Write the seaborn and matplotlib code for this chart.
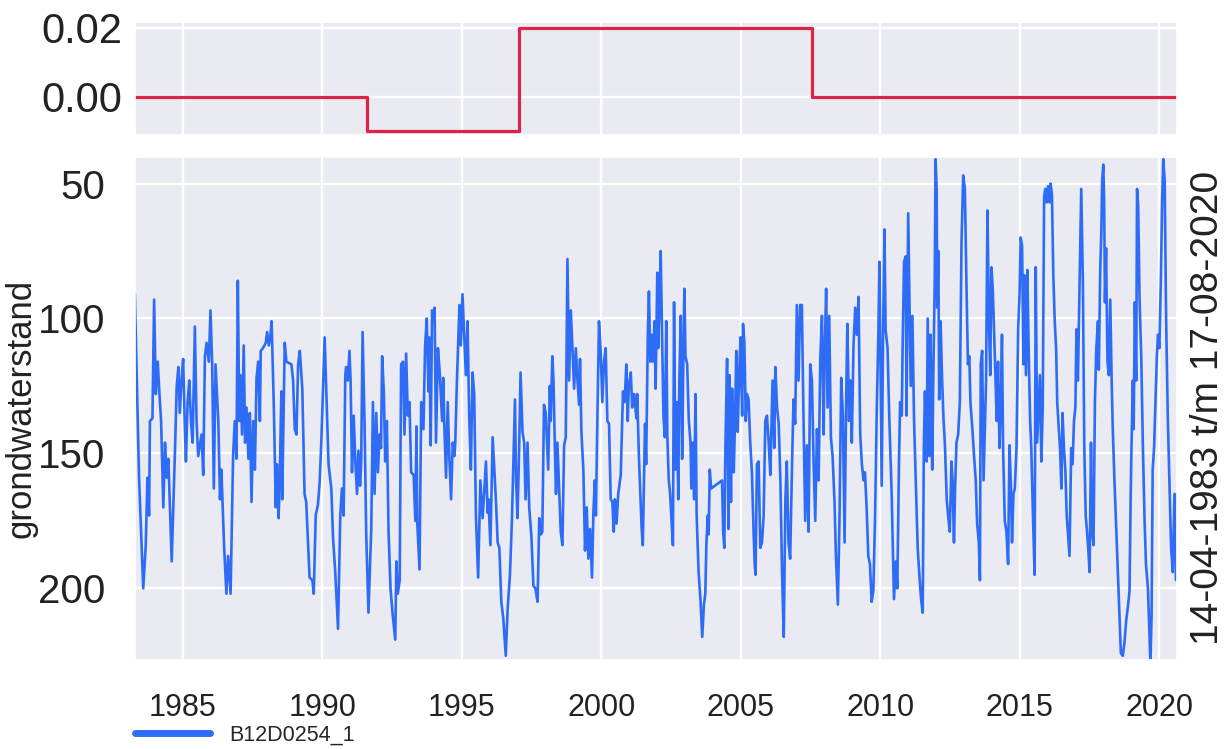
import numpy as np
import pandas as pd
import matplotlib
matplotlib.use("Agg")
import matplotlib.pyplot as plt
from matplotlib.ticker import FixedLocator, StrMethodFormatter
import seaborn as sns

# ---------------- data ----------------
# groundwater level (cm below surface), per period: (decimal year, level)
levels_1983_1986 = [
    (1983.29, 91), (1983.44, 159), (1983.59, 200), (1983.68, 184), (1983.74, 159), (1983.80, 173),
    (1983.83, 138), (1983.92, 137), (1983.98, 93), (1984.04, 128), (1984.11, 116), (1984.17, 128),
    (1984.23, 138), (1984.31, 170), (1984.37, 146), (1984.43, 159), (1984.49, 152), (1984.61, 190),
    (1984.73, 148), (1984.79, 125), (1984.85, 118), (1984.90, 135), (1984.96, 123), (1985.02, 115),
    (1985.08, 140), (1985.12, 153), (1985.18, 131), (1985.24, 123), (1985.30, 138), (1985.36, 146),
    (1985.44, 103), (1985.50, 138), (1985.56, 151), (1985.62, 147), (1985.68, 143), (1985.74, 158),
    (1985.80, 114), (1985.86, 109), (1985.94, 116), (1986.00, 97), (1986.06, 117), (1986.12, 163),
    (1986.18, 117), (1986.28, 138), (1986.34, 167), (1986.39, 156), (1986.49, 185), (1986.57, 202),
]
levels_1986_1990 = [
    (1986.63, 188), (1986.72, 202), (1986.75, 185), (1986.81, 151), (1986.87, 138), (1986.93, 152),
    (1986.98, 86), (1987.03, 138), (1987.07, 121), (1987.13, 143), (1987.19, 110), (1987.24, 146),
    (1987.29, 133), (1987.36, 152), (1987.41, 135), (1987.47, 168), (1987.53, 138), (1987.59, 156),
    (1987.65, 122), (1987.71, 116), (1987.77, 138), (1987.80, 112), (1987.88, 111), (1987.98, 109),
    (1988.03, 105), (1988.09, 110), (1988.15, 106), (1988.19, 101), (1988.27, 133), (1988.34, 170),
    (1988.38, 154), (1988.44, 174), (1988.48, 160), (1988.54, 127), (1988.57, 167), (1988.66, 109),
    (1988.72, 116), (1988.90, 117), (1988.96, 123), (1989.02, 141), (1989.08, 143), (1989.14, 117),
    (1989.20, 112), (1989.29, 126), (1989.37, 165), (1989.43, 168), (1989.55, 196), (1989.65, 197),
    (1989.70, 202), (1989.77, 173), (1989.85, 169), (1989.91, 161), (1989.97, 146),
]
levels_1990_1993 = [
    (1990.09, 107), (1990.15, 127), (1990.23, 154), (1990.33, 163), (1990.39, 181), (1990.47, 194),
    (1990.57, 215), (1990.65, 173), (1990.71, 163), (1990.77, 173), (1990.83, 121), (1990.86, 118),
    (1990.92, 123), (1990.98, 112), (1991.02, 123), (1991.07, 157), (1991.13, 136), (1991.19, 153),
    (1991.25, 165), (1991.30, 149), (1991.36, 162), (1991.40, 153), (1991.45, 105), (1991.52, 139),
    (1991.58, 180), (1991.66, 209), (1991.76, 178), (1991.82, 131), (1991.88, 165), (1991.94, 135),
    (1992.00, 157), (1992.06, 143), (1992.11, 148), (1992.15, 114), (1992.21, 127), (1992.26, 153),
    (1992.32, 138), (1992.38, 179), (1992.45, 200), (1992.53, 210), (1992.62, 219), (1992.66, 190),
    (1992.71, 202), (1992.78, 197), (1992.83, 117), (1992.90, 116), (1992.95, 143), (1993.01, 113),
    (1993.07, 136), (1993.13, 131), (1993.19, 157), (1993.28, 158), (1993.34, 175),
]
levels_1993_1996 = [
    (1993.38, 140), (1993.41, 176), (1993.49, 193), (1993.55, 131), (1993.63, 141), (1993.69, 110),
    (1993.75, 100), (1993.81, 127), (1993.84, 107), (1993.89, 147), (1993.94, 97), (1993.99, 101),
    (1994.03, 96), (1994.08, 146), (1994.15, 111), (1994.22, 121), (1994.30, 138), (1994.34, 122),
    (1994.38, 140), (1994.44, 159), (1994.50, 131), (1994.56, 152), (1994.62, 167), (1994.68, 146),
    (1994.74, 151), (1994.77, 146), (1994.83, 123), (1994.92, 95), (1994.97, 110), (1995.03, 91),
    (1995.09, 106), (1995.15, 121), (1995.21, 101), (1995.27, 136), (1995.33, 156), (1995.39, 120),
    (1995.45, 128), (1995.51, 173), (1995.59, 196), (1995.67, 160), (1995.75, 174), (1995.81, 164),
    (1995.87, 153), (1995.93, 172), (1995.96, 167), (1996.03, 184), (1996.11, 144), (1996.18, 158),
    (1996.23, 168), (1996.29, 183), (1996.35, 185), (1996.42, 205), (1996.49, 211), (1996.58, 225),
    (1996.65, 207), (1996.73, 195), (1996.80, 175), (1996.86, 150), (1996.91, 130),
]
levels_1997_2000 = [
    (1996.95, 160), (1997.00, 174), (1997.06, 148), (1997.11, 120), (1997.18, 142), (1997.24, 146),
    (1997.29, 167), (1997.36, 146), (1997.42, 170), (1997.50, 181), (1997.57, 199), (1997.64, 200),
    (1997.72, 205), (1997.78, 174), (1997.84, 180), (1997.89, 179), (1997.95, 132), (1998.01, 135),
    (1998.10, 156), (1998.16, 125), (1998.19, 138), (1998.25, 114), (1998.29, 123), (1998.34, 148),
    (1998.38, 165), (1998.43, 146), (1998.49, 163), (1998.55, 179), (1998.61, 184), (1998.67, 147),
    (1998.73, 144), (1998.79, 78), (1998.85, 123), (1998.91, 97), (1998.97, 111), (1999.03, 126),
    (1999.09, 111), (1999.15, 123), (1999.21, 132), (1999.24, 115), (1999.29, 142), (1999.36, 156),
    (1999.42, 186), (1999.48, 170), (1999.54, 189), (1999.60, 178), (1999.67, 196), (1999.72, 172),
    (1999.77, 160), (1999.81, 173), (1999.86, 139), (1999.92, 101), (1999.98, 112), (2000.04, 131),
    (2000.10, 116),
]
levels_2000_2003 = [
    (2000.16, 111), (2000.22, 138), (2000.28, 139), (2000.34, 167), (2000.40, 168), (2000.45, 179),
    (2000.49, 167), (2000.55, 176), (2000.61, 165), (2000.70, 158), (2000.78, 127), (2000.84, 131),
    (2000.90, 117), (2000.95, 138), (2000.99, 125), (2001.06, 120), (2001.11, 133), (2001.18, 128),
    (2001.26, 137), (2001.29, 128), (2001.35, 151), (2001.45, 178), (2001.49, 184), (2001.57, 139),
    (2001.61, 154), (2001.67, 106), (2001.71, 90), (2001.76, 116), (2001.80, 106), (2001.85, 116),
    (2001.91, 101), (2001.95, 126), (2002.01, 83), (2002.04, 111), (2002.09, 94), (2002.13, 75),
    (2002.19, 111), (2002.23, 136), (2002.28, 144), (2002.33, 101), (2002.37, 144), (2002.42, 160),
    (2002.47, 165), (2002.52, 175), (2002.57, 184), (2002.61, 94), (2002.66, 156), (2002.71, 131),
    (2002.76, 167), (2002.80, 123), (2002.85, 99), (2002.90, 152), (2002.95, 109), (2002.98, 89),
    (2003.02, 114), (2003.08, 117), (2003.14, 138), (2003.20, 146), (2003.23, 163), (2003.29, 146),
    (2003.33, 167), (2003.38, 128), (2003.42, 173), (2003.49, 194), (2003.56, 205), (2003.62, 218),
]
levels_2003_2006 = [
    (2003.68, 206), (2003.73, 202), (2003.77, 183), (2003.82, 173), (2003.85, 180), (2003.89, 156),
    (2003.94, 163), (2004.33, 160), (2004.37, 179), (2004.41, 185), (2004.45, 148), (2004.51, 115),
    (2004.56, 178), (2004.60, 121), (2004.65, 168), (2004.69, 126), (2004.75, 157), (2004.80, 135),
    (2004.84, 112), (2004.89, 142), (2004.94, 122), (2004.99, 107), (2005.05, 136), (2005.08, 102),
    (2005.13, 109), (2005.18, 138), (2005.22, 128), (2005.28, 130), (2005.34, 146), (2005.40, 157),
    (2005.46, 179), (2005.50, 191), (2005.53, 195), (2005.58, 154), (2005.64, 153), (2005.70, 185),
    (2005.76, 183), (2005.82, 173), (2005.88, 138), (2005.94, 136), (2006.00, 146), (2006.06, 158),
    (2006.09, 144), (2006.14, 123), (2006.20, 148), (2006.24, 118), (2006.30, 133), (2006.36, 139),
    (2006.42, 160), (2006.48, 194), (2006.54, 218), (2006.60, 167), (2006.65, 153), (2006.71, 183),
    (2006.77, 189), (2006.83, 158), (2006.89, 130), (2006.95, 139),
]
levels_2007_2010 = [
    (2007.01, 95), (2007.07, 123), (2007.13, 95), (2007.19, 95), (2007.25, 138), (2007.31, 175),
    (2007.37, 147), (2007.43, 179), (2007.49, 117), (2007.55, 123), (2007.61, 153), (2007.67, 175),
    (2007.73, 141), (2007.79, 160), (2007.85, 115), (2007.91, 99), (2007.97, 143), (2008.00, 116),
    (2008.06, 89), (2008.11, 133), (2008.17, 99), (2008.23, 144), (2008.29, 151), (2008.36, 168),
    (2008.41, 188), (2008.48, 206), (2008.54, 173), (2008.60, 122), (2008.66, 136), (2008.72, 183),
    (2008.78, 128), (2008.82, 102), (2008.88, 138), (2008.93, 123), (2008.98, 146), (2009.04, 110),
    (2009.10, 96), (2009.16, 106), (2009.22, 92), (2009.28, 143), (2009.34, 154), (2009.40, 160),
    (2009.45, 157), (2009.51, 170), (2009.57, 188), (2009.63, 191), (2009.69, 205), (2009.75, 201),
    (2009.81, 175), (2009.87, 136), (2009.93, 106), (2009.97, 79), (2010.00, 109), (2010.05, 162),
    (2010.10, 106), (2010.15, 67), (2010.19, 104), (2010.26, 111), (2010.32, 136),
]
levels_2010_2013 = [
    (2010.41, 166), (2010.49, 204), (2010.56, 190), (2010.61, 200), (2010.67, 153), (2010.71, 131),
    (2010.77, 136), (2010.80, 111), (2010.85, 79), (2010.91, 77), (2010.94, 136), (2011.00, 61),
    (2011.04, 89), (2011.09, 125), (2011.15, 99), (2011.21, 138), (2011.28, 163), (2011.34, 185),
    (2011.40, 195), (2011.46, 204), (2011.52, 209), (2011.56, 148), (2011.60, 127), (2011.66, 153),
    (2011.70, 100), (2011.76, 151), (2011.80, 106), (2011.86, 156), (2011.90, 121), (2011.95, 87),
    (2011.98, 41), (2012.02, 52), (2012.04, 96), (2012.08, 75), (2012.11, 130), (2012.16, 101),
    (2012.21, 121), (2012.26, 136), (2012.32, 148), (2012.38, 167), (2012.43, 173), (2012.49, 179),
    (2012.55, 153), (2012.59, 160), (2012.64, 183), (2012.68, 163), (2012.73, 146), (2012.79, 143),
    (2012.85, 131), (2012.91, 72), (2012.97, 47), (2013.03, 52), (2013.09, 89), (2013.14, 117),
    (2013.19, 114), (2013.23, 131), (2013.30, 141), (2013.36, 151), (2013.42, 160), (2013.47, 176),
    (2013.53, 183), (2013.57, 197), (2013.60, 117), (2013.65, 112), (2013.70, 160),
]
levels_2013_2017 = [
    (2013.79, 123), (2013.84, 60), (2013.89, 99), (2013.94, 121), (2013.98, 81), (2014.03, 89),
    (2014.08, 106), (2014.13, 123), (2014.17, 138), (2014.22, 116), (2014.27, 148), (2014.32, 131),
    (2014.36, 106), (2014.40, 148), (2014.46, 175), (2014.52, 179), (2014.58, 191), (2014.63, 147),
    (2014.68, 162), (2014.72, 183), (2014.77, 165), (2014.82, 163), (2014.88, 148), (2014.94, 104),
    (2014.99, 91), (2015.03, 70), (2015.08, 73), (2015.13, 117), (2015.17, 84), (2015.22, 121),
    (2015.27, 82), (2015.32, 114), (2015.37, 138), (2015.41, 148), (2015.47, 173), (2015.53, 195),
    (2015.57, 81), (2015.62, 146), (2015.68, 131), (2015.72, 121), (2015.77, 153), (2015.82, 133),
    (2015.87, 55), (2015.91, 52), (2015.96, 57), (2016.01, 51), (2016.07, 57), (2016.10, 50),
    (2016.15, 54), (2016.20, 84), (2016.25, 101), (2016.30, 111), (2016.34, 131), (2016.39, 140),
    (2016.44, 148), (2016.49, 163), (2016.53, 135), (2016.58, 148), (2016.63, 156), (2016.68, 173),
    (2016.72, 179), (2016.78, 188), (2016.84, 148), (2016.89, 154), (2016.94, 138), (2016.99, 133),
    (2017.03, 104), (2017.08, 123), (2017.14, 87),
]
levels_2017_2020 = [
    (2017.20, 52), (2017.26, 87), (2017.31, 148), (2017.36, 173), (2017.40, 178), (2017.45, 185),
    (2017.50, 194), (2017.55, 146), (2017.59, 179), (2017.64, 184), (2017.69, 131), (2017.74, 111),
    (2017.80, 101), (2017.83, 119), (2017.88, 82), (2017.92, 68), (2017.95, 49), (2017.99, 43),
    (2018.02, 56), (2018.05, 94), (2018.09, 74), (2018.14, 116), (2018.19, 121), (2018.24, 93),
    (2018.29, 123), (2018.33, 141), (2018.39, 160), (2018.45, 177), (2018.51, 193), (2018.57, 210),
    (2018.62, 224), (2018.69, 225), (2018.75, 220), (2018.81, 212), (2018.87, 207), (2018.93, 201),
    (2018.97, 167), (2019.00, 148), (2019.05, 123), (2019.08, 141), (2019.12, 94), (2019.17, 123),
    (2019.20, 52), (2019.24, 58), (2019.29, 93), (2019.35, 114), (2019.41, 148), (2019.47, 175),
    (2019.52, 191), (2019.59, 200), (2019.64, 216), (2019.68, 228), (2019.72, 210), (2019.76, 156),
    (2019.81, 148), (2019.86, 131), (2019.91, 114), (2019.95, 106), (2020.00, 111), (2020.05, 87),
    (2020.10, 56), (2020.14, 41), (2020.19, 49), (2020.24, 99), (2020.30, 136), (2020.36, 160),
    (2020.42, 185), (2020.48, 194), (2020.54, 165), (2020.60, 197), (2020.63, 165),
]

# trend / step series in top panel: value valid from start year until next start
step_starts = [1983.29, 1991.61, 1997.05, 2007.56]
step_values = [0.00, -0.01, 0.02, 0.00]
series_end = 2020.63

year_ticks = [1985, 1990, 1995, 2000, 2005, 2010, 2015, 2020]
level_ticks = [50, 100, 150, 200]
step_ticks = [0.00, 0.02]
series_name = "B12D0254_1"
y_label = "grondwaterstand"
period_label = "14-04-1983 t/m 17-08-2020"

# ---------------- build frames ----------------
all_periods = (levels_1983_1986 + levels_1986_1990 + levels_1990_1993 + levels_1993_1996
               + levels_1997_2000 + levels_2000_2003 + levels_2003_2006 + levels_2007_2010
               + levels_2010_2013 + levels_2013_2017 + levels_2017_2020)
df = pd.DataFrame(all_periods, columns=["jaar", "stand"])
step_df = pd.DataFrame({"jaar": step_starts + [series_end],
                        "waarde": step_values + [step_values[-1]]})

# ---------------- style ----------------
sns.set_theme(style="darkgrid", rc={"grid.linewidth": 1.7, "axes.facecolor": "#eaeaf2"})
plt.rcParams["font.family"] = ["Liberation Sans", "DejaVu Sans"]

BLUE = "#2e6cf6"
RED = "#dc2348"
TXT = "#222222"

fig = plt.figure(figsize=(12.26, 7.49), dpi=100)
ax_top = fig.add_axes([0.110, 0.820, 0.850, 0.151])
ax = fig.add_axes([0.110, 0.119, 0.850, 0.672])

# top panel
sns.lineplot(data=step_df, x="jaar", y="waarde", ax=ax_top, color=RED, linewidth=2.3,
             drawstyle="steps-post", estimator=None, sort=False)
ax_top.set_xlim(step_starts[0], series_end)
ax_top.set_ylim(-0.011, 0.0217)
ax_top.yaxis.set_major_locator(FixedLocator(step_ticks))
ax_top.yaxis.set_major_formatter(StrMethodFormatter("{x:.2f}"))
ax_top.xaxis.set_major_locator(FixedLocator(year_ticks))
ax_top.set_xticklabels([])
ax_top.set_xlabel("")
ax_top.set_ylabel("")
ax_top.tick_params(axis="y", labelsize=30, pad=3, colors=TXT)

# main panel
sns.lineplot(data=df, x="jaar", y="stand", ax=ax, color=BLUE, linewidth=1.9,
             estimator=None, sort=False, label=series_name, legend=False)
ax.set_xlim(step_starts[0], series_end)
ax.set_ylim(226.5, 40)
ax.xaxis.set_major_locator(FixedLocator(year_ticks))
ax.set_xticklabels([str(y) for y in year_ticks])
ax.yaxis.set_major_locator(FixedLocator(level_ticks))
ax.set_yticklabels([str(v) for v in level_ticks])
ax.tick_params(axis="x", labelsize=22, pad=18, colors=TXT)
ax.tick_params(axis="y", labelsize=29, pad=15, colors=TXT)
ax.set_xlabel("")
ax.set_ylabel(y_label, fontsize=25, color=TXT)
ax.yaxis.set_label_coords(-0.093, 0.5)

ax.text(1.0298, 0.5, period_label, transform=ax.transAxes, rotation=90,
        ha="center", va="center", fontsize=28, color=TXT)

handles, labels = ax.get_legend_handles_labels()
leg = fig.legend(handles, labels, loc="center left", bbox_to_anchor=(0.108, 0.018),
                 frameon=False, fontsize=15.5, handlelength=3.5, handletextpad=0.9,
                 borderaxespad=0, borderpad=0.1)
for line in leg.get_lines():
    line.set_linewidth(5)

fig.savefig("out.png", dpi=100)
